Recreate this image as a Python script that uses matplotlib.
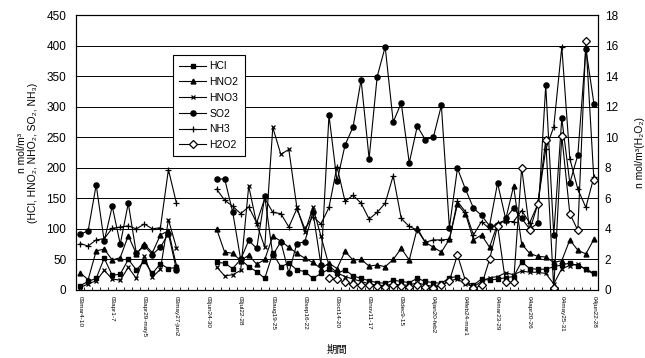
import numpy as np
import matplotlib.pyplot as plt

nan = np.nan
gap = [nan] * 4  # no samples in June 2003

tick_labels = ["03mar4-10", "03apr1-7", "03apr29-may5", "03may27-jun2", "03jun24-30",
               "03jul22-28", "03aug19-25", "03sep16-22", "03oct14-20", "03nov11-17",
               "03dec9-15", "04jan20-feb2", "04feb24-mar1", "04mar23-29", "04apr20-26",
               "04may25-31", "04jun22-28"]

hcl = ([7, 14, 19, 52, 24, 26, 50, 33, 47, 27, 43, 35, 37] + gap +
       [45, 44, 35, 50, 38, 30, 19, 60, 38, 44, 33, 30, 19, 27,
        34, 27, 33, 23, 19, 15, 12, 11, 16, 14, 12, 19, 14, 12, 11, 20,
        22, 14, 8, 18, 16, 18, 20, 22, 46, 35, 34, 34, 38, 41, 44, 40, 35, 27])
hno2 = ([28, 17, 64, 67, 49, 53, 89, 59, 75, 61, 90, 97, 40] + gap +
        [100, 62, 60, 48, 57, 42, 50, 88, 80, 70, 60, 52, 45, 35,
         44, 35, 63, 49, 50, 39, 41, 38, 50, 68, 49, 101, 78, 70, 62, 83,
         140, 125, 82, 90, 70, 108, 115, 170, 75, 60, 55, 54, 45, 48, 82, 65, 59, 83])
hno3 = ([4, 10, 15, 32, 18, 16, 37, 19, 55, 21, 34, 115, 69] + gap +
        [38, 23, 25, 32, 170, 108, 70, 266, 222, 230, 135, 95, 135, 88,
         40, 28, 22, 18, 14, 10, 8, 7, 10, 8, 8, 12, 8, 6, 8, 15,
         18, 10, 5, 14, 20, 22, 28, 25, 31, 29, 29, 27, 10, 35, 40, 42, 33, 26])
so2 = ([91, 97, 172, 80, 137, 75, 142, 60, 72, 58, 70, 92, 33] + gap +
       [181, 182, 128, 50, 81, 68, 153, 57, 79, 28, 76, 79, 128, 41,
        286, 178, 237, 267, 344, 215, 349, 398, 275, 306, 208, 268, 246, 250, 302, 102,
        199, 165, 134, 122, 105, 175, 117, 134, 117, 100, 109, 335, 90, 281, 175, 221, 395, 305])
nh3 = ([76, 72, 82, 84, 101, 103, 105, 100, 108, 100, 102, 197, 142] + gap +
       [165, 147, 137, 125, 136, 110, 150, 127, 125, 103, 133, 100, 120, 108,
        135, 202, 145, 155, 142, 116, 127, 142, 187, 117, 104, 98, 78, 82, 82, 83,
        145, 128, 90, 112, 100, 110, 112, 112, 130, 110, 140, 230, 267, 398, 215, 165, 135, 185])
h2o2 = ([nan] * 31 +
        [0.8, 0.7, 0.5, 0.4, 0.35, 0.3, 0.25, 0.2, 0.3, 0.25, 0.2, 0.3, 0.2, 0.15, 0.3, 0.6,
         2.3, 0.6, 0.1, 0.3, 2.0, 4.2, 0.5, 0.5, 8.0, 3.9, 5.6, 9.8, 0.1, 10.1, 5.0, 3.9, 16.3, 7.2])

x = np.arange(len(hcl))

plt.rcParams['font.family'] = ['Liberation Sans', 'DejaVu Sans']

fig = plt.figure(figsize=(6.45, 3.58), dpi=100)
ax = fig.add_axes([0.118, 0.190, 0.809, 0.768])

lkw = dict(color='black', lw=0.8, mec='black')
ax.plot(x, hcl, marker='s', ms=3.3, mfc='black', label='HCl', **lkw)
ax.plot(x, hno2, marker='^', ms=3.5, mfc='black', label='HNO2', **lkw)
ax.plot(x, hno3, marker='x', ms=3.5, mew=0.9, label='HNO3', **lkw)
ax.plot(x, so2, marker='o', ms=3.7, mfc='black', label='SO2', **lkw)
ax.plot(x, nh3, marker='+', ms=4.5, mew=0.9, label='NH3', **lkw)

ax2 = ax.twinx()
ax2.plot(x, h2o2, marker='D', ms=3.8, mfc='white', mew=0.9, label='H2O2', **lkw)

ax.set_xlim(-0.5, len(x) - 0.5)
ax.set_ylim(0, 450)
ax.set_yticks(np.arange(0, 451, 50))
ax2.set_ylim(0, 18)
ax2.set_yticks(np.arange(0, 19, 2))

ax.set_xticks(np.arange(0, len(x), 4))
ax.set_xticklabels(tick_labels, rotation=-90, fontsize=4.6)
ax.set_xticks(np.arange(-0.5, len(x), 1), minor=True)
ax.tick_params(axis='x', which='major', length=0, pad=4)
ax.tick_params(axis='x', which='minor', direction='in', length=2.5, width=0.6)
ax.tick_params(axis='y', length=0, pad=7, labelsize=8.5)
ax2.tick_params(axis='y', length=0, pad=5, labelsize=8.5)

ax.yaxis.grid(True, color='black', lw=0.7)
ax.set_axisbelow(True)
for a in (ax, ax2):
    for s in a.spines.values():
        s.set_color('black')
        s.set_linewidth(0.8)

ax.set_ylabel('n mol/m³\n(HCl, HNO₂, NHO₂, SO₂, NH₃)', fontsize=7.5, labelpad=6)
ax2.set_ylabel('n mol/m³(H₂O₂)', fontsize=7.5, labelpad=12)
ax.set_xlabel('期間', fontsize=7.5, family=['Noto Sans CJK JP', 'DejaVu Sans'], labelpad=6)

handles = ax.get_lines() + ax2.get_lines()
leg = ax2.legend(handles, [h.get_label() for h in handles], loc='upper left',
                 bbox_to_anchor=(0.176, 0.873), fontsize=7.5, frameon=True,
                 fancybox=False, framealpha=1, edgecolor='black', handlelength=2.6,
                 labelspacing=0.55, borderpad=0.6, handletextpad=0.3)
leg.get_frame().set_linewidth(0.8)

plt.savefig('out.png', dpi=100)
